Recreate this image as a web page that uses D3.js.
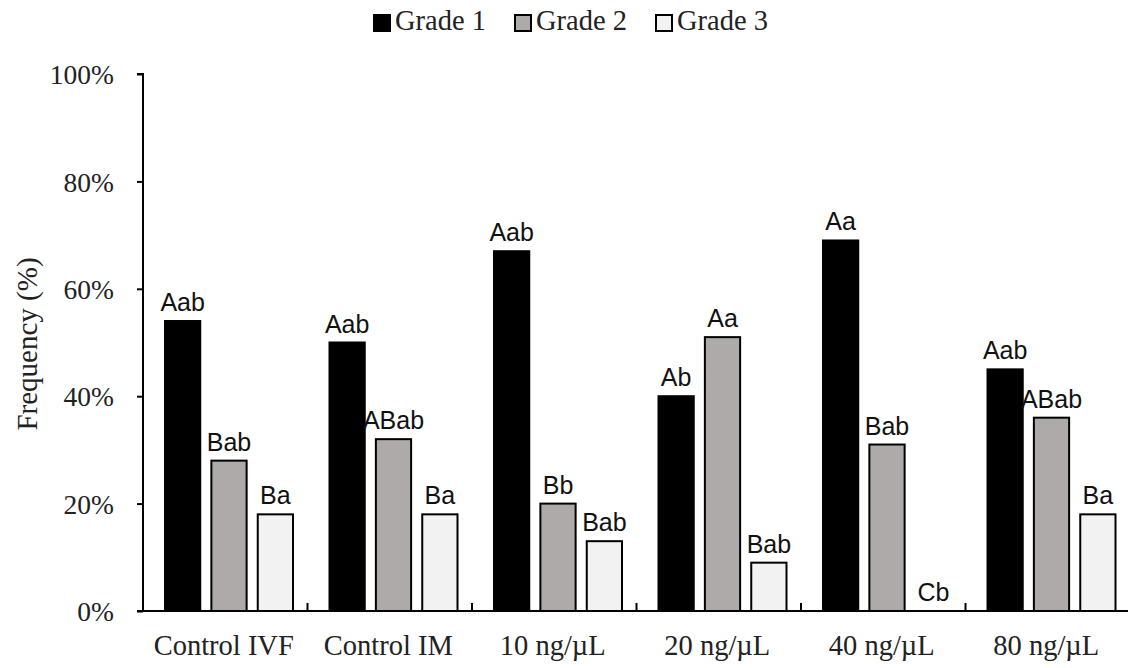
<!DOCTYPE html>
<html><head><meta charset="utf-8">
<script src="https://cdn.jsdelivr.net/npm/d3@7"></script>
<style>body{margin:0;background:#fff}svg{display:block}</style>
</head><body>
<script>
const categories = ["Control IVF","Control IM","10 ng/µL","20 ng/µL","40 ng/µL","80 ng/µL"];
const seriesNames = ["Grade 1","Grade 2","Grade 3"];
const grade1 = [54,50,67,40,69,45];
const grade2 = [28,32,20,51,31,36];
const grade3 = [18,18,13,9,0,18];
const labels1 = ["Aab","Aab","Aab","Ab","Aa","Aab"];
const labels2 = ["Bab","ABab","Bb","Aa","Bab","ABab"];
const labels3 = ["Ba","Ba","Bab","Bab","Cb","Ba"];
const yTicks = [0,20,40,60,80,100];

const colors = ["#000000","#aeaaaa","#f2f2f2"];
const serif = "Liberation Serif, Times New Roman, serif";
const sans = "Liberation Sans, Arial, sans-serif";
const W=1128,H=668;
const svg=d3.select("body").append("svg").attr("width",W).attr("height",H);
const x0=d3.scaleBand().domain(categories).range([143,1130]).paddingInner(0).paddingOuter(0);
const x1=d3.scaleBand().domain(seriesNames).range([22,150]).paddingInner(0.24);
const y=d3.scaleLinear().domain([0,100]).range([611,74]);

const series=[grade1,grade2,grade3];
const labs=[labels1,labels2,labels3];

// y axis
const ya=svg.append("g").attr("transform","translate(143,0)")
  .call(d3.axisLeft(y).tickValues(yTicks).tickSize(6).tickPadding(23).tickFormat(d=>d+"%"));
ya.select(".domain").attr("stroke","#000").attr("stroke-width",2).attr("d","M-6,74H0V611H-6");
ya.selectAll(".tick line").attr("stroke-width",2);
ya.selectAll(".tick text").attr("font-family",serif).attr("font-size",27.5).attr("fill","#222").attr("dy","0.35em");

// bars
categories.forEach((c,i)=>{
  series.forEach((s,j)=>{
    const bx=x0(c)+x1(seriesNames[j]);
    const bw=x1.bandwidth();
    if(s[i]>0){
      svg.append("rect").attr("x",bx).attr("y",y(s[i])).attr("width",bw).attr("height",y(0)-y(s[i]))
        .attr("fill",colors[j]).attr("stroke","#000").attr("stroke-width",2);
    }
    svg.append("text").attr("x",bx+bw/2).attr("y",y(s[i])-10)
      .attr("text-anchor","middle").attr("font-family",sans)
      .attr("font-size",25).attr("fill","#111").text(labs[j][i]);
  });
});

// x axis
const xa=svg.append("g").attr("transform","translate(0,611)");
xa.append("line").attr("x1",143).attr("x2",1128).attr("y1",0).attr("y2",0).attr("stroke","#000").attr("stroke-width",2);
categories.slice(1).forEach(c=>{
  xa.append("line").attr("x1",x0(c)).attr("x2",x0(c)).attr("y1",0).attr("y2",-8).attr("stroke","#000").attr("stroke-width",2);
});
categories.forEach(c=>{
  xa.append("text").attr("x",x0(c)+x0.bandwidth()/2-1.5).attr("y",44).attr("text-anchor","middle")
    .attr("font-family",serif).attr("font-size",28.5).attr("fill","#222").text(c);
});

// y label
svg.append("text").attr("transform","translate(37,344) rotate(-90)").attr("text-anchor","middle")
  .attr("font-family",serif).attr("font-size",29).attr("fill","#222").text("Frequency (%)");

// legend
const legX=[374,515,656];
seriesNames.forEach((n,j)=>{
  svg.append("rect").attr("x",legX[j]).attr("y",15).attr("width",16).attr("height",16)
    .attr("fill",colors[j]).attr("stroke","#000").attr("stroke-width",2);
  svg.append("text").attr("x",legX[j]+21).attr("y",30).attr("font-family",serif)
    .attr("font-size",28.5).attr("fill","#222").text(n);
});
</script>
</body></html>
